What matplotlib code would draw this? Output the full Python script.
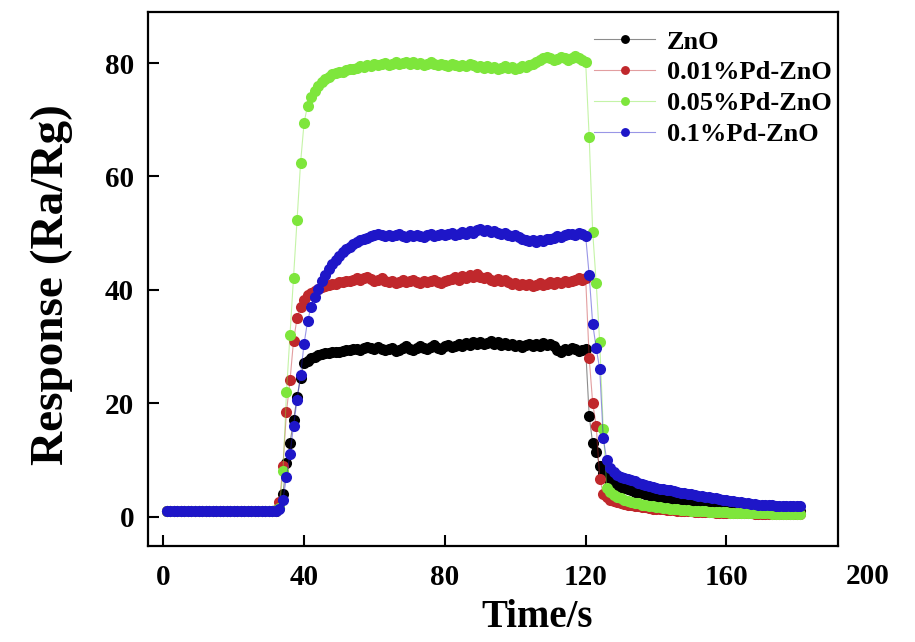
import matplotlib
matplotlib.use('Agg')
import matplotlib.pyplot as plt
import matplotlib.colors as mcolors
import matplotlib.transforms as mtransforms

plt.rcParams['font.family'] = ['Liberation Serif', 'DejaVu Serif']
plt.rcParams['font.weight'] = 'bold'

# sampling time, 1 s steps
time_s = list(range(1, 182))

labels = ['ZnO', '0.01%Pd-ZnO', '0.05%Pd-ZnO', '0.1%Pd-ZnO']
colors = ['#000000', '#C0282C', '#7EE63C', '#1E16C8']

zno = [
    0.9, 0.9, 0.9, 0.9, 0.9, 0.9, 0.9, 0.9, 0.9, 0.9,
    0.9, 0.9, 0.9, 0.9, 0.9, 0.9, 0.9, 0.9, 0.9, 0.9,
    0.9, 0.9, 0.9, 0.9, 0.9, 0.9, 0.9, 0.9, 0.9, 0.9,
    0.9, 1.0, 1.5, 4.0, 9.5, 13.0, 17.0, 21.0, 24.5, 27.0,
    27.5, 28.0, 28.2, 28.5, 28.6, 28.8, 28.9, 29.0, 29.1, 29.0,
    29.2, 29.4, 29.3, 29.5, 29.6, 29.4, 29.7, 29.9, 29.8, 29.5,
    29.9, 29.6, 29.3, 29.5, 29.8, 29.2, 29.4, 29.7, 30.0, 29.6,
    29.3, 29.8, 30.1, 29.7, 29.5, 29.9, 30.2, 29.8, 29.6, 30.0,
    30.3, 29.9, 30.1, 30.4, 30.0, 30.6, 30.3, 30.7, 30.5, 30.8,
    30.4, 30.6, 30.9, 30.5, 30.7, 30.3, 30.6, 30.2, 30.4, 30.1,
    30.3, 29.9, 30.2, 30.5, 30.0, 30.4, 30.1, 30.6, 30.3, 30.5,
    30.0, 29.4, 29.1, 29.6, 29.3, 29.8, 29.5, 29.2, 29.4, 29.6,
    17.8, 12.9, 11.3, 9.0, 7.6, 6.8, 6.2, 5.8, 5.5, 5.2,
    5.0, 4.8, 4.6, 4.4, 4.3, 4.1, 3.9, 3.8, 3.6, 3.5,
    3.4, 3.3, 3.2, 3.0, 2.9, 2.8, 2.7, 2.6, 2.5, 2.4,
    2.3, 2.25, 2.2, 2.1, 2.0, 1.95, 1.9, 1.8, 1.75, 1.7,
    1.65, 1.6, 1.55, 1.5, 1.45, 1.4, 1.35, 1.3, 1.25, 1.2,
    1.2, 1.15, 1.1, 1.1, 1.05, 1.0, 1.0, 1.0, 0.95, 0.95, 0.9,
]

pd001 = [
    0.9, 0.9, 0.9, 0.9, 0.9, 0.9, 0.9, 0.9, 0.9, 0.9,
    0.9, 0.9, 0.9, 0.9, 0.9, 0.9, 0.9, 0.9, 0.9, 0.9,
    0.9, 0.9, 0.9, 0.9, 0.9, 0.9, 0.9, 0.9, 0.9, 0.9,
    0.9, 1.2, 2.5, 9.0, 18.5, 24.0, 31.0, 35.0, 37.0, 38.2,
    39.0, 39.5, 39.8, 40.2, 40.5, 40.7, 40.9, 41.1, 41.0, 41.3,
    41.4, 41.6, 41.5, 41.8, 42.0, 41.7, 42.1, 42.2, 41.9, 41.6,
    41.8, 42.0, 41.6, 41.3, 41.5, 41.2, 41.4, 41.7, 41.3, 41.5,
    41.8, 41.4, 41.2, 41.6, 41.3, 41.5, 41.8, 41.4, 41.2, 41.5,
    41.7, 41.9, 42.2, 41.8, 42.4, 42.1, 42.6, 42.3, 42.7, 42.2,
    42.0, 42.3, 41.8, 41.6, 41.9, 41.5, 41.7, 41.3, 41.0, 41.2,
    40.9, 41.1, 40.8, 41.0, 40.7, 40.9, 41.2, 40.8, 41.0, 41.3,
    41.1, 41.4, 41.2, 41.5, 41.3, 41.6, 41.8, 42.0, 41.8, 42.1,
    28.0, 20.0, 16.0, 6.7, 4.0, 3.4, 3.0, 2.7, 2.5, 2.3,
    2.2, 2.1, 2.0, 1.9, 1.8, 1.7, 1.6, 1.5, 1.4, 1.35,
    1.3, 1.25, 1.2, 1.15, 1.1, 1.05, 1.0, 0.95, 0.9, 0.9,
    0.85, 0.85, 0.8, 0.8, 0.75, 0.75, 0.7, 0.7, 0.7, 0.65,
    0.65, 0.6, 0.6, 0.6, 0.55, 0.55, 0.55, 0.5, 0.5, 0.5,
    0.5, 0.45, 0.45, 0.45, 0.45, 0.4, 0.4, 0.4, 0.4, 0.4, 0.4,
]

pd005 = [
    0.9, 0.9, 0.9, 0.9, 0.9, 0.9, 0.9, 0.9, 0.9, 0.9,
    0.9, 0.9, 0.9, 0.9, 0.9, 0.9, 0.9, 0.9, 0.9, 0.9,
    0.9, 0.9, 0.9, 0.9, 0.9, 0.9, 0.9, 0.9, 0.9, 0.9,
    0.9, 1.2, 1.5, 8.0, 22.0, 32.0, 42.0, 52.3, 62.4, 69.5,
    72.5, 74.0, 75.0, 76.0, 76.6, 77.2, 77.6, 78.0, 78.3, 78.5,
    78.4, 78.8, 79.0, 78.9, 79.2, 79.4, 79.3, 79.6, 79.5, 79.8,
    79.6, 79.9, 80.0, 79.7, 79.9, 80.1, 79.8, 80.0, 80.2, 79.9,
    80.1, 79.8, 80.0, 79.7, 79.9, 80.1, 79.8, 79.6, 79.9, 79.7,
    79.5, 79.8, 79.6, 79.4, 79.7, 79.5, 79.8, 79.6, 79.3, 79.5,
    79.2, 79.4, 79.1, 79.3, 79.0, 79.2, 79.4, 79.1, 79.3, 79.0,
    79.2, 79.5, 79.3, 79.6, 79.8, 80.2, 80.6, 80.9, 81.1, 80.8,
    80.5, 80.7, 81.0, 80.8, 80.6, 80.9, 81.2, 80.8, 80.5, 80.2,
    67.0, 50.2, 41.2, 30.7, 15.5, 5.0, 4.3, 3.8, 3.5, 3.2,
    3.0, 2.8, 2.6, 2.4, 2.3, 2.1, 2.0, 1.9, 1.8, 1.7,
    1.6, 1.5, 1.45, 1.4, 1.3, 1.25, 1.2, 1.15, 1.1, 1.05,
    1.0, 0.95, 0.9, 0.9, 0.85, 0.85, 0.8, 0.8, 0.75, 0.75,
    0.7, 0.7, 0.7, 0.65, 0.65, 0.6, 0.6, 0.6, 0.6, 0.55,
    0.55, 0.55, 0.5, 0.5, 0.5, 0.5, 0.45, 0.45, 0.45, 0.45, 0.45,
]

pd01 = [
    0.9, 0.9, 0.9, 0.9, 0.9, 0.9, 0.9, 0.9, 0.9, 0.9,
    0.9, 0.9, 0.9, 0.9, 0.9, 0.9, 0.9, 0.9, 0.9, 0.9,
    0.9, 0.9, 0.9, 0.9, 0.9, 0.9, 0.9, 0.9, 0.9, 0.9,
    0.9, 1.0, 1.3, 3.0, 7.0, 11.0, 16.0, 20.5, 25.0, 30.5,
    34.5, 37.0, 38.8, 40.2, 41.5, 42.6, 43.6, 44.5, 45.3, 46.0,
    46.7, 47.2, 47.6, 48.0, 48.4, 48.7, 49.0, 49.2, 49.4, 49.6,
    49.8, 49.6, 49.5, 49.7, 49.4, 49.6, 49.8, 49.5, 49.3, 49.6,
    49.4, 49.7, 49.5, 49.3, 49.6, 49.8, 49.5, 49.7, 49.9, 49.6,
    49.8, 50.0, 49.7, 49.9, 50.2, 49.9, 50.3, 50.1, 50.5, 50.7,
    50.4, 50.6, 50.2, 50.4, 50.0, 49.8, 50.1, 49.7, 49.5, 49.6,
    49.3, 49.0, 48.8, 48.6, 48.7, 48.5, 48.8, 48.6, 49.0, 48.9,
    49.2, 49.4, 49.3, 49.6, 49.8, 49.9, 49.7, 50.0, 49.8, 49.5,
    42.6, 34.0, 29.7, 26.0, 13.8, 10.0, 8.6, 7.9, 7.4, 7.0,
    6.8, 6.6, 6.4, 6.2, 6.0, 5.8, 5.6, 5.4, 5.2, 5.0,
    4.9, 4.8, 4.7, 4.6, 4.5, 4.4, 4.2, 4.1, 4.0, 3.9,
    3.8, 3.7, 3.6, 3.5, 3.4, 3.3, 3.2, 3.1, 3.0, 2.9,
    2.8, 2.7, 2.6, 2.5, 2.4, 2.3, 2.2, 2.2, 2.1, 2.1,
    2.0, 2.0, 2.0, 1.9, 1.9, 1.9, 1.9, 1.9, 1.9, 1.9, 1.9,
]

series = [zno, pd001, pd005, pd01]

fig = plt.figure(figsize=(9.15, 6.42), dpi=100)
ax = fig.add_axes([148 / 915, 1 - 546 / 642, 690 / 915, 534 / 642])

for y, c, lab in zip(series, colors, labels):
    # thin, faded connecting line with solid dots on it
    ax.plot(time_s, y, '-', color=mcolors.to_rgba(c, 0.45), lw=0.8,
            marker='o', markersize=8, markeredgewidth=0,
            markerfacecolor=c, label=lab)

ax.set_xlim(-4.35, 191.7)
ax.set_ylim(-5.2, 89.0)
ax.set_xticks([0, 40, 80, 120, 160])
ax.set_yticks([0, 20, 40, 60, 80])

ax.tick_params(direction='in', length=8, width=1.5, labelsize=21, pad=10,
               top=False, right=False)
ax.tick_params(axis='x', pad=13)
for s in ax.spines.values():
    s.set_linewidth(1.6)

# the 200 label sits past the right end of the axis
trans = mtransforms.blended_transform_factory(ax.transData, ax.transAxes)
ax.text(200, -17.5 / 534, '200', transform=trans, fontsize=21,
        fontweight='bold', ha='center', va='top', clip_on=False)

ax.set_xlabel('Time/s', fontsize=28, fontweight='bold')
ax.set_ylabel('Response (Ra/Rg)', fontsize=34, fontweight='bold')
ax.xaxis.set_label_coords(0.564, -0.133)
ax.yaxis.set_label_coords(-0.139, 0.49)
ax.xaxis.label.set_va('center')
ax.yaxis.label.set_va('center')

leg = ax.legend(loc='upper right', bbox_to_anchor=(0.991, 0.966),
                frameon=False, fontsize=19, handlelength=2.3,
                handletextpad=0.45, labelspacing=0.28, borderpad=0,
                borderaxespad=0, numpoints=1, markerscale=0.8)
for t in leg.get_texts():
    t.set_fontweight('bold')

plt.savefig('out.png', dpi=100)
plt.close()
